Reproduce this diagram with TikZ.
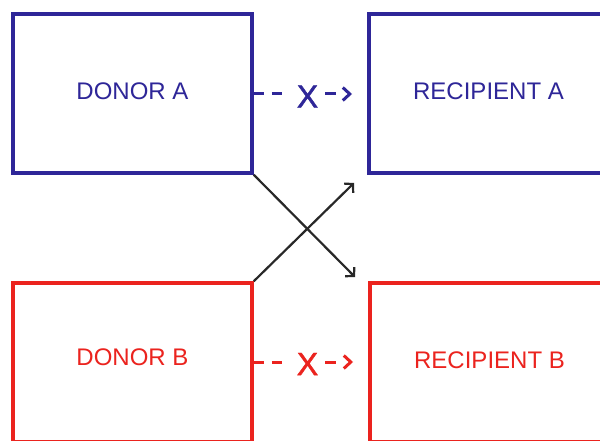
\documentclass[tikz,border=0pt]{standalone}
\usepackage{fontspec}
\setmainfont{Liberation Sans}
\newfontfamily\xfont[FakeBold=1.5]{Liberation Sans}
\usetikzlibrary{arrows.meta}
\definecolor{dblue}{RGB}{46,38,152}
\definecolor{dred}{RGB}{235,35,30}
\definecolor{dgray}{RGB}{40,40,40}
\begin{document}
\begin{tikzpicture}[x=1pt,y=-1pt,
  box/.style={draw,line width=3.5pt,minimum width=239pt,minimum height=159pt,inner sep=0pt,font=\fontsize{24}{26}\selectfont},
  dashpart/.style={line width=3pt,dash pattern=on 10pt off 8pt},
  tippart/.style={line width=3pt,dash pattern=on 11pt off 30pt,-{Straight Barb[length=7pt,width=13pt,line width=3pt]}},
  crossarrow/.style={draw=dgray,line width=2.2pt,-{Straight Barb[length=6pt,width=13pt,line width=2.2pt]}},
  xmark/.style={inner xsep=7pt,inner ysep=0pt,font=\fontsize{32}{34}\xfont}]
\useasboundingbox (0,0) rectangle (600,441);
\clip (0,0) rectangle (600,441);
\fill[white] (0,0) rectangle (600,441);
\node[box,draw=dblue,text=dblue] (dA) at (132.5,93.5) {\raisebox{5pt}{DONOR A}};
\node[box,draw=dblue,text=dblue] (rA) at (488.5,93.5) {\raisebox{5pt}{RECIPIENT A}};
\node[box,draw=dred,text=dred] (dB) at (132.5,362.5) {\raisebox{10pt}{DONOR B}};
\node[box,draw=dred,text=dred] (rB) at (489.5,362.5) {\raisebox{5pt}{RECIPIENT B}};
\node[xmark,text=dblue] (xA) at (307.5,96.5) {X};
\node[xmark,text=dred] (xB) at (307.5,364) {X};
\coordinate (tA) at (352,94);
\coordinate (tB) at (353,362);
\draw[dashpart,dblue] (dA.east |- tA) -- (xA.west |- tA);
\draw[tippart,dblue] (xA.east |- tA) -- (tA);
\draw[dashpart,dred] (dB.east |- tB) -- (xB.west |- tB);
\draw[tippart,dred] (xB.east |- tB) -- (tB);
\coordinate (cA) at (355,277);
\coordinate (cB) at (354,183);
\draw[crossarrow] (dA.south east) -- (cA);
\draw[crossarrow] (dB.north east) -- (cB);
\end{tikzpicture}
\end{document}
